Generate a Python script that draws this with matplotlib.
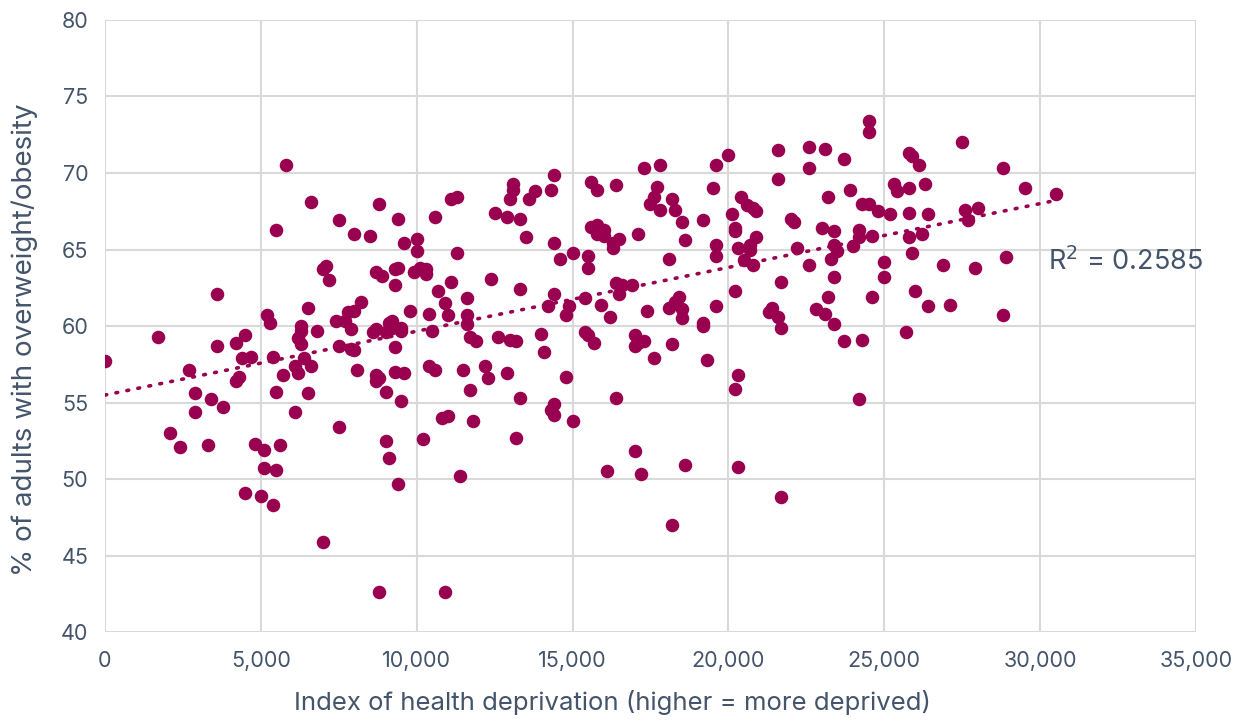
import matplotlib.pyplot as plt
import numpy as np

# Health deprivation index (thousands) and % adults overweight/obese, one entry per area
deprivation_k = [
    0.0, 1.7, 2.1, 2.4, 2.7, 2.9, 2.9, 3.3, 3.4, 3.6, 3.6, 3.8, 4.2, 4.2, 4.3,
    4.4, 4.5, 4.5, 4.7, 4.8, 5.0, 5.1, 5.1, 5.2, 5.3, 5.4, 5.4, 5.5, 5.5, 5.5,
    5.6, 5.7, 5.8, 6.1, 6.1, 6.2, 6.3, 6.3, 6.2, 6.3, 6.4, 6.5, 6.5, 6.6, 6.6,
    6.8, 7.0, 7.1, 7.0, 7.2, 7.4, 7.5, 7.5, 7.5, 7.7, 7.8, 7.9, 7.9, 8.0, 8.0,
    8.0, 8.1, 8.2, 8.5, 8.6, 8.7, 8.7, 8.7, 8.7, 8.8, 8.8, 8.9, 9.0, 9.0, 9.0,
    9.1, 9.1, 9.2, 9.2, 9.3, 9.3, 9.3, 9.3, 9.4, 9.4, 9.4, 9.5, 9.5, 9.5, 9.6,
    9.6, 9.8, 9.9, 10.0, 10.0, 10.1, 10.2, 10.3, 10.3, 10.4, 10.4, 10.5, 10.6,
    10.6, 10.7, 10.8, 10.9, 10.9, 8.8, 11.0, 11.0, 11.1, 11.1, 11.3, 11.3, 11.4,
    11.5, 11.6, 11.6, 11.6, 11.7, 11.7, 11.8, 11.9, 12.2, 12.3, 12.4, 12.5,
    12.6, 12.9, 12.9, 13.0, 13.0, 13.1, 13.1, 13.2, 13.2, 13.3, 13.3, 13.3,
    13.5, 13.6, 13.8, 14.0, 14.1, 14.2, 14.3, 14.3, 14.4, 14.4, 14.4, 14.4,
    14.4, 14.6, 14.8, 14.8, 14.9, 15.0, 15.0, 15.4, 15.5, 15.4, 15.5, 15.5,
    15.6, 15.6, 15.7, 15.8, 15.8, 15.8, 15.9, 16.0, 16.0, 16.1, 16.4, 16.2,
    16.3, 16.3, 16.4, 16.4, 16.5, 16.5, 16.6, 16.9, 17.0, 17.0, 17.0, 17.1,
    17.1, 17.2, 17.3, 17.4, 17.3, 17.5, 17.6, 17.6, 17.7, 17.8, 17.8, 18.1,
    18.1, 18.2, 18.2, 18.2, 18.3, 18.3, 18.4, 18.5, 18.5, 18.5, 18.6, 18.6,
    19.2, 19.2, 19.2, 19.3, 19.5, 19.6, 19.6, 19.6, 19.6, 20.0, 20.1, 20.2,
    20.2, 20.2, 20.2, 20.3, 20.3, 20.4, 20.3, 20.5, 20.6, 20.7, 20.7, 20.8,
    20.8, 20.9, 20.9, 21.3, 21.4, 21.6, 21.6, 21.6, 21.7, 21.7, 21.7, 22.0,
    22.1, 22.2, 22.6, 22.6, 22.6, 22.8, 23.0, 23.1, 23.1, 23.2, 23.2, 23.3,
    23.4, 23.4, 23.5, 23.4, 23.4, 23.7, 23.7, 23.9, 24.0, 24.2, 24.2, 24.3,
    24.3, 24.2, 24.5, 24.5, 24.5, 24.6, 24.6, 24.8, 25.0, 25.0, 25.2, 25.3,
    25.4, 25.7, 25.8, 25.9, 25.8, 25.8, 25.8, 25.9, 26.0, 26.1, 26.2, 26.3,
    26.4, 26.4, 26.9, 27.1, 27.5, 27.6, 27.7, 27.9, 28.0, 28.8, 28.8, 28.9,
    29.5, 30.5,
]
overweight_pct = [
    57.7, 59.3, 53.0, 52.1, 57.1, 55.6, 54.4, 52.2, 55.2, 62.1, 58.7, 54.7, 58.9, 56.4, 56.7,
    57.9, 59.4, 49.1, 58.0, 52.3, 48.9, 50.7, 51.9, 60.7, 60.2, 58.0, 48.3, 50.6, 55.7, 66.3,
    52.2, 56.8, 70.5, 54.4, 57.4, 59.2, 59.7, 60.0, 56.9, 58.8, 57.9, 55.6, 61.2, 57.4, 68.1,
    59.7, 63.7, 63.9, 45.9, 63.0, 60.3, 58.7, 53.4, 66.9, 60.3, 60.9, 58.5, 59.8, 61.0, 58.4,
    66.0, 57.1, 61.6, 65.9, 59.6, 59.8, 63.5, 56.8, 56.4, 56.6, 68.0, 63.3, 59.6, 52.5, 55.7,
    51.4, 60.2, 60.3, 59.9, 63.7, 62.7, 58.6, 57.0, 67.0, 63.8, 49.7, 59.7, 55.1, 59.9, 65.4,
    56.9, 61.0, 63.5, 65.7, 64.9, 63.8, 52.6, 63.4, 63.7, 60.8, 57.4, 59.7, 67.1,
    57.1, 62.3, 54.0, 61.5, 42.6, 42.6, 60.7, 54.1, 62.9, 68.3, 68.4, 64.8, 50.2,
    57.1, 60.7, 60.1, 61.8, 59.3, 55.8, 53.8, 59.0, 57.4, 56.6, 63.1, 67.4,
    59.3, 67.1, 56.9, 68.3, 59.1, 69.3, 68.9, 59.0, 52.7, 67.0, 62.4, 55.3,
    65.8, 68.3, 68.8, 59.5, 58.3, 61.3, 68.9, 54.5, 54.2, 54.9, 65.4, 69.9,
    62.1, 64.4, 60.7, 56.7, 61.3, 53.8, 64.8, 59.6, 59.4, 61.8, 64.6, 63.8,
    66.5, 69.4, 58.9, 66.6, 66.0, 68.9, 61.4, 66.3, 65.9, 50.5, 69.2, 60.6,
    65.1, 65.4, 62.8, 55.3, 65.7, 62.1, 62.7, 62.7, 51.8, 59.4, 58.7, 58.9,
    66.0, 50.3, 59.0, 61.0, 70.3, 68.0, 68.4, 57.9, 69.1, 70.5, 67.6, 64.4,
    61.2, 58.8, 47.0, 68.3, 67.6, 61.6, 61.9, 61.1, 60.5, 66.8, 65.6, 50.9,
    60.0, 60.2, 66.9, 57.8, 69.0, 70.5, 65.3, 64.6, 61.3, 71.2, 67.3, 66.4,
    66.2, 62.3, 55.9, 56.8, 50.8, 68.4, 65.1, 64.3, 67.9, 65.0, 65.3, 64.0,
    67.7, 67.5, 65.8, 60.9, 61.2, 71.5, 69.6, 60.6, 59.9, 62.9, 48.8, 67.0,
    66.8, 65.1, 71.7, 64.0, 70.3, 61.1, 66.4, 71.6, 60.8, 68.4, 61.9, 64.4,
    66.2, 65.3, 64.9, 63.2, 60.1, 70.9, 59.0, 68.9, 65.2, 65.8, 66.3, 68.0,
    59.1, 55.2, 68.0, 73.4, 72.7, 61.9, 65.9, 67.5, 64.2, 63.2, 67.3, 69.3,
    68.8, 59.6, 71.3, 71.1, 69.0, 67.4, 65.8, 64.8, 62.3, 70.5, 66.0, 69.3,
    61.3, 67.3, 64.0, 61.4, 72.0, 67.6, 66.9, 63.8, 67.7, 70.3, 60.7, 64.5,
    69.0, 68.6,
]
r_squared_label = "R$^2$ = 0.2585"

x = np.array(deprivation_k) * 1000
y = np.array(overweight_pct)

dot_color = "#990050"
text_color = "#44546A"
grid_color = "#D9D9D9"

plt.rcParams["font.family"] = ["Inter", "DejaVu Sans"]

fig = plt.figure(figsize=(12.48, 7.24), dpi=100)
ax = fig.add_axes([0.0841, 0.127, 0.8742, 0.8454])

ax.scatter(x, y, s=95, color=dot_color, linewidths=0, zorder=3)

# linear trend line across the data range
slope, intercept = np.polyfit(x, y, 1)
tx = np.array([0, x.max()])
ax.plot(tx, slope * tx + intercept, color=dot_color, lw=2.6,
        linestyle=(0, (0.5, 2.6)), dash_capstyle="round", zorder=2)

ax.text(30250, 64.2, r_squared_label, color=text_color, fontsize=19.5,
        va="center", ha="left")

ax.set_xlim(0, 35000)
ax.set_ylim(40, 80)
ax.set_xticks(np.arange(0, 35001, 5000))
ax.set_yticks(np.arange(40, 81, 5))
ax.set_xticklabels([f"{v:,}" for v in range(0, 35001, 5000)])
ax.grid(True, color=grid_color, lw=1.5, zorder=0)
for s in ax.spines.values():
    s.set_visible(False)
ax.tick_params(length=0, labelsize=15.5, labelcolor=text_color)
ax.tick_params(axis="x", pad=14)
ax.tick_params(axis="y", pad=12)

ax.set_xlabel("Index of health deprivation (higher = more deprived)",
              fontsize=18.5, color=text_color)
ax.set_ylabel("% of adults with overweight/obesity",
              fontsize=20, color=text_color)
ax.xaxis.set_label_coords(0.465, -0.095)
ax.yaxis.set_label_coords(-0.061, 0.478)

fig.savefig("out.png", dpi=100)
